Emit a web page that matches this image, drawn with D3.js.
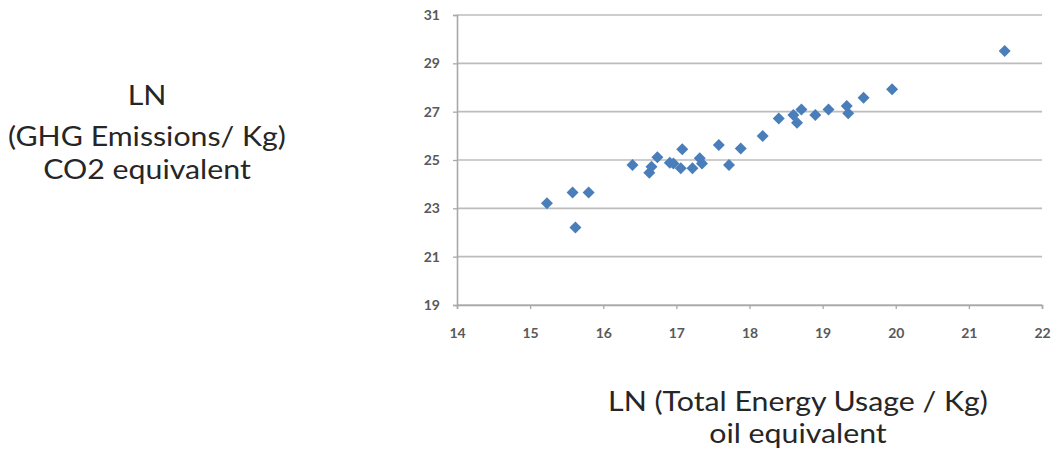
<!DOCTYPE html>
<html><head><meta charset="utf-8">
<script src="https://cdn.jsdelivr.net/npm/d3@7"></script>
<style>html,body{margin:0;padding:0;background:#fff;}svg{display:block;}</style>
</head><body>
<svg id="chart" width="1053" height="457"></svg>
<script>
const energyLn = [15.23,15.58,15.62,15.80,16.40,16.63,16.66,16.74,16.91,16.96,17.06,17.08,17.22,17.32,17.35,17.58,17.72,17.88,18.18,18.40,18.60,18.65,18.71,18.90,19.08,19.33,19.35,19.56,19.95,21.49];
const ghgLn    = [23.21,23.66,22.21,23.66,24.79,24.47,24.72,25.11,24.89,24.86,24.66,25.44,24.66,25.07,24.86,25.62,24.79,25.48,25.99,26.72,26.86,26.54,27.09,26.86,27.09,27.23,26.93,27.58,27.93,29.51];
const xTicks = [14,15,16,17,18,19,20,21,22];
const yTicks = [19,21,23,25,27,29,31];
const yTitle = ["LN","(GHG Emissions/ Kg)","CO2 equivalent"];
const xTitle = ["LN (Total Energy Usage / Kg)","oil equivalent"];

const svg = d3.select("#chart");
const x = d3.scaleLinear().domain([14,22]).range([457,1042]);
const y = d3.scaleLinear().domain([19,31]).range([305,15]);
const gridColor = "#bcbcbc", axisColor = "#a8a8a8", tickText = "#595959";
const font = "Lato, 'Open Sans', sans-serif";
const stretch = 1.165;

// gridlines
svg.append("g").selectAll("line").data(yTicks).join("line")
  .attr("x1", x(14)).attr("x2", x(22))
  .attr("y1", d=>y(d)).attr("y2", d=>y(d))
  .attr("stroke", gridColor).attr("stroke-width", 1.6);

// y axis
const yAxis = svg.append("g").attr("transform", `translate(${x(14)},0)`)
  .call(d3.axisLeft(y).tickValues(yTicks).tickSize(4).tickPadding(13).tickFormat(d3.format("d")));
yAxis.select(".domain").attr("stroke", axisColor).attr("stroke-width", 1.6);
yAxis.selectAll(".tick line").attr("stroke", axisColor).attr("stroke-width", 1.3);
yAxis.selectAll("text").attr("fill", tickText).attr("font-family", font).attr("font-size", 14).attr("font-weight","bold");

// x axis
const xAxis = svg.append("g").attr("transform", `translate(0,${y(19)})`)
  .call(d3.axisBottom(x).tickValues(xTicks).tickSize(4).tickPadding(19).tickFormat(d3.format("d")));
xAxis.select(".domain").attr("stroke", axisColor).attr("stroke-width", 1.6);
xAxis.selectAll(".tick line").attr("stroke", axisColor).attr("stroke-width", 1.3);
xAxis.selectAll("text").attr("fill", tickText).attr("font-family", font).attr("font-size", 14).attr("font-weight","bold");

// points
const pts = energyLn.map((e,i)=>({e, g: ghgLn[i]}));
const r = 6;
svg.append("g").selectAll("path").data(pts).join("path")
  .attr("d", d => { const cx = x(d.e), cy = y(d.g);
    return `M${cx},${cy-r}L${cx+r},${cy}L${cx},${cy+r}L${cx-r},${cy}Z`; })
  .attr("fill", "#4a7ebb");

// titles (each line its own text element, stretched horizontally to match the wider original face)
function titleLines(lines, cx, bases) {
  svg.append("g").selectAll("text").data(lines).join("text")
    .attr("text-anchor","middle").attr("fill","#262626")
    .attr("font-family", font).attr("font-size", 26)
    .attr("x", cx).attr("y", (d,i)=>bases[i]).text(d=>d)
    .each(function(){
      const w = this.getComputedTextLength();
      d3.select(this).attr("textLength", w*stretch).attr("lengthAdjust","spacingAndGlyphs");
    });
}
titleLines(yTitle, 147, [105, 146, 179]);
titleLines(xTitle, 798, [411, 443]);
</script>
</body></html>
